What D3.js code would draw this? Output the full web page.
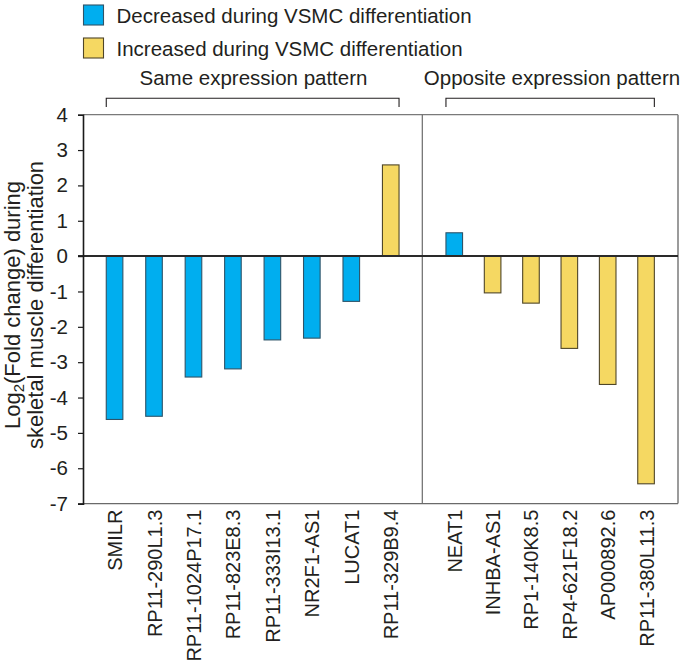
<!DOCTYPE html>
<html>
<head>
<meta charset="utf-8">
<script src="https://cdn.jsdelivr.net/npm/d3@7"></script>
<style>
  html, body { margin: 0; padding: 0; background: #fff; }
  svg { display: block; font-family: "Liberation Sans", Arial, Helvetica, sans-serif; }
</style>
</head>
<body>
<svg id="chart" width="681" height="669"></svg>
<script>
// ---- data ----
const sameGenes = ["SMILR", "RP11-290L1.3", "RP11-1024P17.1", "RP11-823E8.3", "RP11-333I13.1", "NR2F1-AS1", "LUCAT1", "RP11-329B9.4"];
const sameValues = [-4.62, -4.53, -3.42, -3.19, -2.37, -2.32, -1.28, 2.58];
const sameVSMC = ["dec", "dec", "dec", "dec", "dec", "dec", "dec", "inc"];

const oppGenes = ["NEAT1", "INHBA-AS1", "RP1-140K8.5", "RP4-621F18.2", "AP000892.6", "RP11-380L11.3"];
const oppValues = [0.66, -1.04, -1.33, -2.61, -3.63, -6.44];
const oppVSMC = ["dec", "inc", "inc", "inc", "inc", "inc"];

const yTicks = [4, 3, 2, 1, 0, -1, -2, -3, -4, -5, -6, -7];
const legendKeys = ["dec", "inc"];
const legendLabels = ["Decreased during VSMC differentiation", "Increased during VSMC differentiation"];
const groupLabels = ["Same expression pattern", "Opposite expression pattern"];
const yTitleLines = ["Log", "(Fold change) during", "skeletal muscle differentiation"];

// ---- styles ----
const fills = { dec: "#00aeef", inc: "#f5d862" };
const strokes = { dec: "#2f5468", inc: "#4f4628" };
const textColor = "#231f20";

const svg = d3.select("#chart");
const pLeft = 83, pRight = 678, pTop = 114.7, pBottom = 503.6, divider = 422.3;
const barW = 16.6;

const y = d3.scaleLinear().domain([-7, 4]).range([pBottom, pTop]);
const xSame = d3.scalePoint().domain(sameGenes).range([pLeft, divider]).padding(0.8);
const xOpp = d3.scalePoint().domain(oppGenes).range([divider, pRight]).padding(0.833);

// frame (top, right, divider, bottom) in gray
svg.append("line").attr("x1", pLeft).attr("x2", pRight).attr("y1", pTop).attr("y2", pTop)
  .attr("stroke", "#7a7a7a").attr("stroke-width", 1.2);
svg.append("line").attr("x1", pRight).attr("x2", pRight).attr("y1", pTop).attr("y2", pBottom)
  .attr("stroke", "#7a7a7a").attr("stroke-width", 1.5);
svg.append("line").attr("x1", divider).attr("x2", divider).attr("y1", pTop).attr("y2", pBottom)
  .attr("stroke", "#6a6a6a").attr("stroke-width", 1.2);
svg.append("line").attr("x1", pLeft).attr("x2", pRight).attr("y1", pBottom).attr("y2", pBottom)
  .attr("stroke", "#6a6a6a").attr("stroke-width", 1.2);

// bars
function drawBars(genes, values, kinds, xs) {
  const data = genes.map((g, i) => ({ g, v: values[i], k: kinds[i] }));
  svg.append("g").selectAll("rect").data(data).join("rect")
    .attr("x", d => xs(d.g) - barW / 2)
    .attr("width", barW)
    .attr("y", d => y(Math.max(0, d.v)))
    .attr("height", d => Math.abs(y(d.v) - y(0)))
    .attr("fill", d => fills[d.k])
    .attr("stroke", d => strokes[d.k])
    .attr("stroke-width", 1.1);
}
drawBars(sameGenes, sameValues, sameVSMC, xSame);
drawBars(oppGenes, oppValues, oppVSMC, xOpp);

// zero line
svg.append("line").attr("x1", pLeft - 5).attr("x2", pRight).attr("y1", y(0)).attr("y2", y(0))
  .attr("stroke", "#2a2a2a").attr("stroke-width", 2);

// y axis
const yAxis = d3.axisLeft(y).tickValues(yTicks).tickSize(5).tickPadding(10).tickFormat(d3.format("d"));
const gy = svg.append("g").attr("transform", `translate(${pLeft},0)`).call(yAxis);
gy.select(".domain").attr("stroke", "#1a1a1a").attr("stroke-width", 1.6);
gy.selectAll(".tick line").attr("stroke", "#1a1a1a").attr("stroke-width", 1.2);
gy.selectAll(".tick text").attr("font-size", 20.5).attr("fill", textColor)
  .attr("font-family", "'Liberation Sans', Arial, sans-serif").text(d => d < 0 ? "-" + Math.abs(d) : d);

// x labels
function drawXLabels(genes, xs) {
  const ax = d3.axisBottom(xs).tickSize(0).tickPadding(0);
  const g = svg.append("g").attr("transform", `translate(0,${pBottom})`).call(ax);
  g.select(".domain").remove();
  g.selectAll(".tick text")
    .attr("font-size", 20).attr("fill", textColor)
    .attr("font-family", "'Liberation Sans', Arial, sans-serif")
    .attr("text-anchor", "end")
    .attr("transform", "rotate(-90)")
    .attr("x", -6).attr("y", 0).attr("dy", "0.35em");
}
drawXLabels(sameGenes, xSame);
drawXLabels(oppGenes, xOpp);

// y title
const yc = 305;
const t1 = svg.append("text").attr("transform", `translate(20,${yc}) rotate(-90)`)
  .attr("text-anchor", "middle").attr("font-size", 22).attr("fill", textColor);
t1.append("tspan").text(yTitleLines[0]);
t1.append("tspan").text("2").attr("font-size", 15).attr("dy", 4);
t1.append("tspan").text(yTitleLines[1]).attr("dy", -4);
svg.append("text").attr("transform", `translate(43,${yc}) rotate(-90)`)
  .attr("text-anchor", "middle").attr("font-size", 22).attr("fill", textColor)
  .text(yTitleLines[2]);

// legend
const leg = svg.append("g");
legendKeys.forEach((k, i) => {
  const yy = 5 + i * 33;
  leg.append("rect").attr("x", 83.5).attr("y", yy).attr("width", 20).attr("height", 20)
    .attr("fill", fills[k]).attr("stroke", strokes[k]).attr("stroke-width", 1.1);
  leg.append("text").attr("x", 116.5).attr("y", yy + 17.5).attr("font-size", 20.5)
    .attr("fill", textColor).text(legendLabels[i]);
});

// group brackets
function bracket(genes, xs, label, labelX) {
  const x0 = xs(genes[0]) - barW / 2, x1 = xs(genes[genes.length - 1]) + barW / 2;
  svg.append("path")
    .attr("d", `M${x0},107 V98.3 H${x1} V107`)
    .attr("fill", "none").attr("stroke", textColor).attr("stroke-width", 1.1);
  svg.append("text").attr("x", labelX).attr("y", 85).attr("text-anchor", "middle")
    .attr("font-size", 20.5).attr("fill", textColor).text(label);
}
bracket(sameGenes, xSame, groupLabels[0], 253.5);
bracket(oppGenes, xOpp, groupLabels[1], 552);
</script>
</body>
</html>
